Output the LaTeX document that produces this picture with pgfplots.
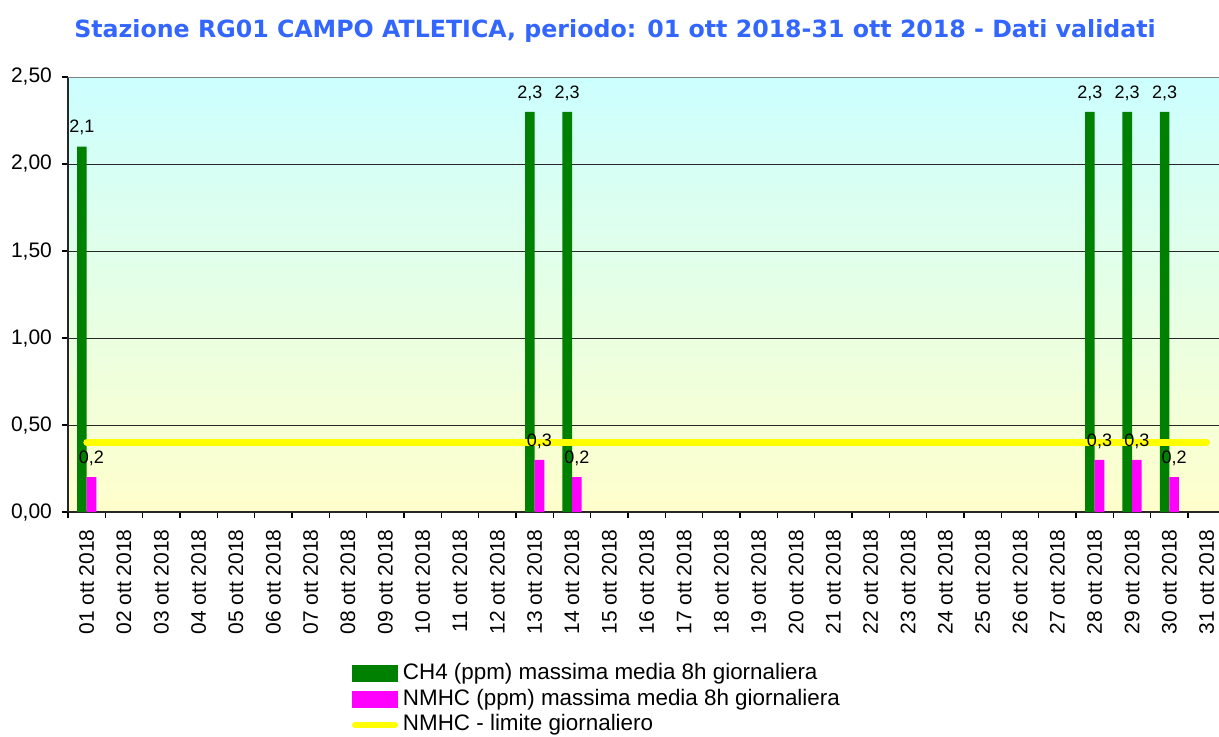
\documentclass[border=0pt]{standalone}
\usepackage{fontspec}
\setmainfont{Liberation Sans}
\newfontfamily\titlefont{DejaVu Sans}
\usepackage{pgfplots}
\pgfplotsset{compat=1.18}
\definecolor{ch4green}{HTML}{008000}
\definecolor{nmhcmag}{HTML}{FF00FF}
\definecolor{limyellow}{HTML}{FFFF00}
\definecolor{titleblue}{HTML}{3366FF}
\definecolor{bgtop}{HTML}{CCFFFF}
\definecolor{bgbot}{HTML}{FFFFCC}

\begin{document}
\begin{tikzpicture}
\useasboundingbox (-34pt,-112pt) rectangle (575.5pt,256pt);
\begin{axis}[
  at={(0,0)}, anchor=south west,
  scale only axis, width=575.5pt, height=217.5pt,
  xmin=0.5, xmax=31.33, ymin=0, ymax=2.5,
  axis x line*=bottom, axis y line*=left,
  axis line style={line width=1pt, draw=black!85, -},
  axis background/.style={top color=bgtop, bottom color=bgbot},
  tick align=outside, major tick length=3pt, minor tick length=3pt,
  xtick={1,...,31},
  xticklabels={01 ott 2018,02 ott 2018,03 ott 2018,04 ott 2018,05 ott 2018,06 ott 2018,07 ott 2018,08 ott 2018,09 ott 2018,10 ott 2018,11 ott 2018,12 ott 2018,13 ott 2018,14 ott 2018,15 ott 2018,16 ott 2018,17 ott 2018,18 ott 2018,19 ott 2018,20 ott 2018,21 ott 2018,22 ott 2018,23 ott 2018,24 ott 2018,25 ott 2018,26 ott 2018,27 ott 2018,28 ott 2018,29 ott 2018,30 ott 2018,31 ott 2018},
  minor xtick={0.5,1.5,...,30.5},
  major x tick style={draw=none},
  minor x tick style={draw=black, line width=0.6pt},
  xticklabel style={yshift=-5.5pt, rotate=90, anchor=east, font=\fontsize{10.5}{12}\selectfont, inner sep=0pt},
  ytick={0,0.5,1,1.5,2,2.5},
  ytick style={draw=black, line width=0.6pt},
  yticklabel style={font=\fontsize{10.5}{12}\selectfont, xshift=-1.5pt,
    /pgf/number format/.cd, fixed, fixed zerofill, precision=2, use comma, assume math mode=true},
  ymajorgrids,
  major grid style={draw=black!85, line width=0.5pt},
  legend style={at={(0.2467,-0.3453)}, anchor=north west, draw=none, fill=none,
    inner sep=0pt, outer sep=0pt, row sep=1.2pt,
    font=\fontsize{11.2}{12}\selectfont, cells={anchor=west},
    nodes={inner sep=0.5pt, text height=8.2pt, text depth=2.4pt},
    /tikz/every odd column/.append style={column sep=2pt}},
]
% bars
\addplot[ybar, bar width=4.8pt, bar shift=-2.4pt, fill=ch4green, draw=none,
  legend image code/.code={\fill[ch4green] (0pt,-4.2pt) rectangle (23pt,4.2pt);}]
  coordinates {(1,2.1) (13,2.3) (14,2.3) (28,2.3) (29,2.3) (30,2.3)};
\addlegendentry{CH4 (ppm) massima media 8h giornaliera}
\addplot[ybar, bar width=4.8pt, bar shift=2.4pt, fill=nmhcmag, draw=none,
  legend image code/.code={\fill[nmhcmag] (0pt,-4.2pt) rectangle (23pt,4.2pt);}]
  coordinates {(1,0.2) (13,0.3) (14,0.2) (28,0.3) (29,0.3) (30,0.2)};
\addlegendentry{NMHC (ppm) massima media 8h giornaliera}
% daily limit
\addplot[limyellow, line width=3.3pt, line cap=round,
  legend image code/.code={\draw[limyellow, line width=3pt, line cap=round] (1.5pt,0pt) -- (21.5pt,0pt);}]
  coordinates {(1,0.4) (31,0.4)};
\addlegendentry{NMHC - limite giornaliero}
% value labels on top of everything
\addplot[ybar, bar width=4.8pt, bar shift=-2.4pt, draw=none, fill=none, forget plot,
  nodes near coords={\pgfmathprintnumber[fixed, precision=1, use comma, assume math mode=true]{\pgfplotspointmeta}},
  every node near coord/.append style={font=\fontsize{9}{10}\selectfont, inner sep=1pt, yshift=4.5pt, xshift=-2.4pt}]
  coordinates {(1,2.1) (13,2.3) (14,2.3) (28,2.3) (29,2.3) (30,2.3)};
\addplot[ybar, bar width=4.8pt, bar shift=2.4pt, draw=none, fill=none, forget plot,
  nodes near coords={\pgfmathprintnumber[fixed, precision=1, use comma, assume math mode=true]{\pgfplotspointmeta}},
  every node near coord/.append style={font=\fontsize{9}{10}\selectfont, inner sep=1pt, yshift=4.5pt, xshift=2.4pt}]
  coordinates {(1,0.2) (13,0.3) (14,0.2) (28,0.3) (29,0.3) (30,0.2)};
\draw[draw=gray, line width=1pt] (rel axis cs:0,1) -- (rel axis cs:1,1);
\end{axis}
\node[font=\titlefont\bfseries\fontsize{11.85}{14}\selectfont, text=titleblue] at (273.5pt,240.5pt)
  {Stazione RG01 CAMPO ATLETICA, periodo: 01 ott 2018-31 ott 2018 - Dati validati};
\end{tikzpicture}
\end{document}
